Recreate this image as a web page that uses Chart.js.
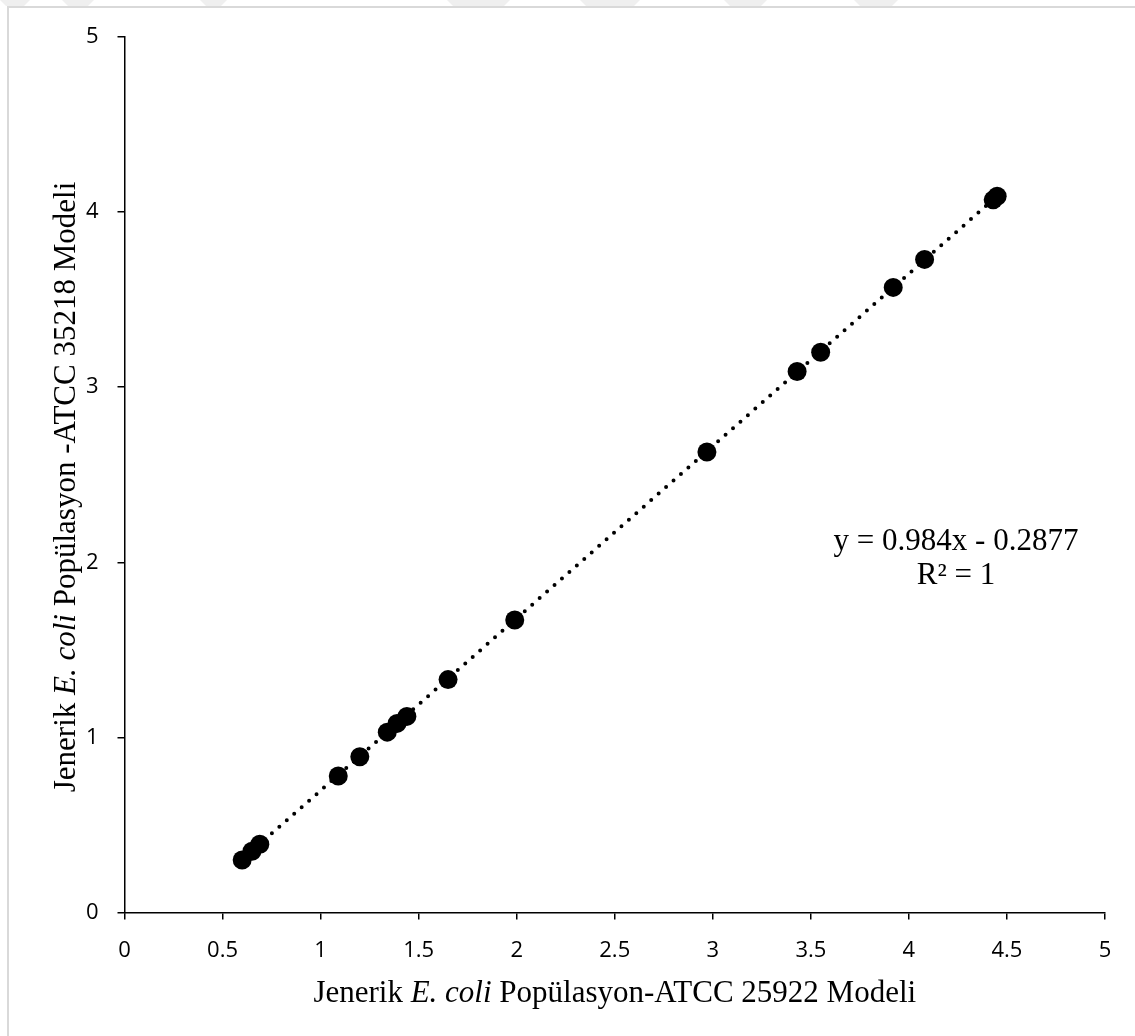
<!DOCTYPE html>
<html lang="tr">
<head>
    <meta charset="UTF-8">
    <title>Jenerik E. coli Popülasyon</title>
    <style>
        body {
            margin: 0;
            background: #fff;
        }
        #chart {
            display: block;
        }
    </style>
    <script src="https://cdn.jsdelivr.net/npm/chart.js"></script>
</head>
<body>
    <canvas id="chart" width="1135" height="1036"></canvas>

    <script>
        // ATCC 25922 model (x) vs ATCC 35218 model (y)
        const xValues = [0.60, 0.65, 0.69, 1.09, 1.20, 1.34, 1.39, 1.44, 1.65, 1.99, 2.97, 3.43, 3.55, 3.92, 4.08, 4.43, 4.45];
        const yValues = [0.30, 0.35, 0.39, 0.78, 0.89, 1.03, 1.08, 1.12, 1.33, 1.67, 2.63, 3.09, 3.20, 3.57, 3.73, 4.07, 4.09];

        const xTicks = [0, 0.5, 1, 1.5, 2, 2.5, 3, 3.5, 4, 4.5, 5];
        const yTicks = [0, 1, 2, 3, 4, 5];

        // trendline shown on the chart
        const slope = 0.984;
        const intercept = -0.2877;
        const eqLines = ['y = 0.984x - 0.2877', 'R² = 1'];

        const xTitle = [['Jenerik ', false], ['E. coli', true], [' Popülasyon-ATCC 25922 Modeli', false]];
        const yTitle = [['Jenerik ', false], ['E. coli', true], [' Popülasyon -ATCC 35218 Modeli', false]];

        const points = xValues.map((x, i) => ({ x: x, y: yValues[i] }));
        const xMin = Math.min(...xValues);
        const xMax = Math.max(...xValues);
        const trend = [
            { x: xMin, y: slope * xMin + intercept },
            { x: xMax, y: slope * xMax + intercept }
        ];

        const serif = '"Liberation Serif", "Times New Roman", serif';

        function drawRuns(ctx, runs, cx, baseY) {
            let total = 0;
            runs.forEach(r => {
                ctx.font = (r[1] ? 'italic ' : '') + '31px ' + serif;
                total += ctx.measureText(r[0]).width;
            });
            let x = cx - total / 2;
            ctx.textAlign = 'left';
            ctx.textBaseline = 'alphabetic';
            runs.forEach(r => {
                ctx.font = (r[1] ? 'italic ' : '') + '31px ' + serif;
                ctx.fillText(r[0], x, baseY);
                x += ctx.measureText(r[0]).width;
            });
        }

        const decorPlugin = {
            id: 'decor',
            beforeDraw(chart) {
                const ctx = chart.ctx;
                ctx.save();
                ctx.fillStyle = '#fff';
                ctx.fillRect(0, 0, chart.width, chart.height);

                // faint watermark bands above the frame
                ctx.fillStyle = '#efefef';
                [[0, 30], [62, 94], [200, 227], [447, 510], [580, 640], [724, 767], [854, 898]].forEach(b => {
                    ctx.beginPath();
                    ctx.moveTo(b[0], 0);
                    ctx.lineTo(b[1], 0);
                    ctx.lineTo(b[1] - 6, 6);
                    ctx.lineTo(b[0] + 6, 6);
                    ctx.closePath();
                    ctx.fill();
                });

                // chart frame
                ctx.strokeStyle = '#d9d9d9';
                ctx.lineWidth = 2;
                ctx.beginPath();
                ctx.moveTo(8, chart.height);
                ctx.lineTo(8, 7);
                ctx.lineTo(chart.width, 7);
                ctx.stroke();
                ctx.restore();
            },
            afterDraw(chart) {
                const ctx = chart.ctx;
                const area = chart.chartArea;
                ctx.save();
                ctx.fillStyle = '#000';

                // axis titles
                drawRuns(ctx, xTitle, (area.left + area.right) / 2, 1002);
                ctx.save();
                ctx.translate(75, 487);
                ctx.rotate(-Math.PI / 2);
                drawRuns(ctx, yTitle, 0, 0);
                ctx.restore();

                // trendline equation
                ctx.font = '31px ' + serif;
                ctx.textAlign = 'center';
                ctx.textBaseline = 'alphabetic';
                ctx.fillText(eqLines[0], 956, 550);
                ctx.fillText(eqLines[1], 956, 584);
                ctx.restore();
            }
        };

        const tickFont = { family: '"Open Sans", sans-serif', size: 22 };

        new Chart(document.getElementById('chart'), {
            type: 'scatter',
            data: {
                datasets: [
                    {
                        label: 'Veri',
                        data: points,
                        backgroundColor: '#000',
                        borderColor: '#000',
                        borderWidth: 0,
                        pointRadius: 9.5,
                        pointHoverRadius: 9.5
                    },
                    {
                        label: 'Doğrusal',
                        type: 'line',
                        data: trend,
                        borderColor: '#000',
                        borderWidth: 4,
                        borderDash: [0, 9.9],
                        borderCapStyle: 'round',
                        pointRadius: 0,
                        fill: false
                    }
                ]
            },
            options: {
                responsive: false,
                animation: false,
                devicePixelRatio: 1,
                layout: {
                    padding: { top: 37, right: 30, left: 0, bottom: 0 }
                },
                plugins: {
                    legend: { display: false },
                    tooltip: { enabled: false }
                },
                scales: {
                    x: {
                        type: 'linear',
                        min: 0,
                        max: 5,
                        afterBuildTicks: scale => {
                            scale.ticks = xTicks.map(v => ({ value: v }));
                        },
                        afterFit: scale => {
                            scale.height = 123.5;
                            scale.paddingLeft = 0;
                            scale.paddingRight = 0;
                        },
                        border: { display: true, color: '#000', width: 1.5 },
                        grid: {
                            drawOnChartArea: false,
                            drawTicks: true,
                            tickLength: 7,
                            color: '#000',
                            lineWidth: 1.5
                        },
                        ticks: {
                            color: '#000',
                            font: tickFont,
                            padding: 18,
                            maxRotation: 0,
                            autoSkip: false,
                            callback: v => String(v)
                        }
                    },
                    y: {
                        type: 'linear',
                        min: 0,
                        max: 5,
                        afterBuildTicks: scale => {
                            scale.ticks = yTicks.map(v => ({ value: v }));
                        },
                        afterFit: scale => {
                            scale.width = 124.5;
                            scale.paddingTop = 0;
                            scale.paddingBottom = 0;
                        },
                        border: { display: true, color: '#000', width: 1.5 },
                        grid: {
                            drawOnChartArea: false,
                            drawTicks: true,
                            tickLength: 7,
                            color: '#000',
                            lineWidth: 1.5
                        },
                        ticks: {
                            color: '#000',
                            font: tickFont,
                            padding: 19,
                            autoSkip: false,
                            callback: v => String(v)
                        }
                    }
                }
            },
            plugins: [decorPlugin]
        });
    </script>
</body>
</html>
